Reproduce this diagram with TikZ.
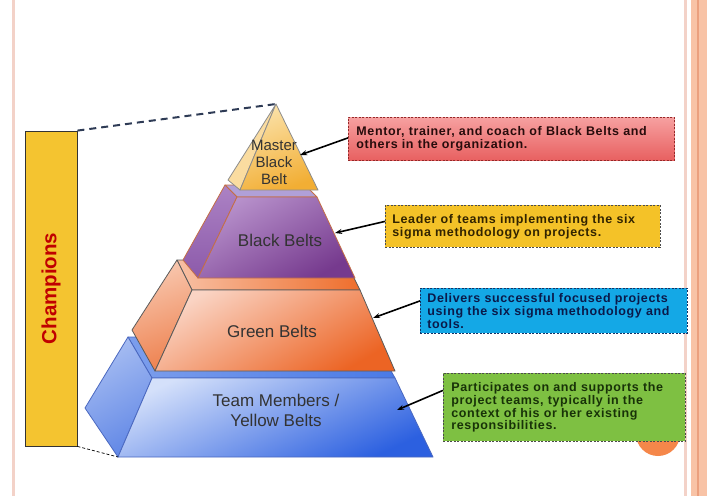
\documentclass[tikz,border=0pt]{standalone}
\usepackage{fontspec}
\setmainfont{Liberation Sans}
\usetikzlibrary{arrows.meta}

\definecolor{champ}{HTML}{F4C430}
\definecolor{champtext}{HTML}{C00000}
\definecolor{guide}{HTML}{2E3B55}
\definecolor{rule}{HTML}{F3D2C8}
\definecolor{band}{HTML}{F8C3A6}
\definecolor{bandline}{HTML}{EBA07E}
\definecolor{dot}{HTML}{F5874A}
% Team Members layer
\definecolor{tmedge}{HTML}{4A68C0}
\definecolor{tmtopA}{HTML}{7C9EEC}
\definecolor{tmtopB}{HTML}{4A7AE6}
\definecolor{tmsideA}{HTML}{A8BEF2}
\definecolor{tmsideB}{HTML}{6288E6}
\definecolor{tmfrontA}{HTML}{D4E0FA}
\definecolor{tmfrontB}{HTML}{2C60E0}
% Green Belts layer
\definecolor{gbedge}{HTML}{5A5A5A}
\definecolor{gbtopA}{HTML}{F8C0A4}
\definecolor{gbtopB}{HTML}{EE6E2C}
\definecolor{gbsideA}{HTML}{F8C8B0}
\definecolor{gbsideB}{HTML}{EE8250}
\definecolor{gbfrontA}{HTML}{FAD4C4}
\definecolor{gbfrontB}{HTML}{EC6424}
% Black Belts layer
\definecolor{bbedge}{HTML}{C46E46}
\definecolor{bbtop}{HTML}{B0A0D8}
\definecolor{bbsideA}{HTML}{AC82C4}
\definecolor{bbsideB}{HTML}{8C5AAA}
\definecolor{bbfrontA}{HTML}{B892CC}
\definecolor{bbfrontB}{HTML}{763A8E}
% Master Black Belt tip
\definecolor{mbedge}{HTML}{8C8C8C}
\definecolor{mbside}{HTML}{FADCA0}
\definecolor{mbfrontA}{HTML}{FBE2AA}
\definecolor{mbfrontB}{HTML}{F2AE34}
% role boxes
\definecolor{redA}{HTML}{F6A0A0}
\definecolor{redB}{HTML}{E86060}
\definecolor{redline}{HTML}{962828}
\definecolor{redtext}{HTML}{280C0C}
\definecolor{yelfill}{HTML}{F4C228}
\definecolor{yeltext}{HTML}{322400}
\definecolor{bluefill}{HTML}{14A8E6}
\definecolor{bluetext}{HTML}{0A1A4A}
\definecolor{blueline}{HTML}{143264}
\definecolor{grnfill}{HTML}{7EC042}
\definecolor{grntext}{HTML}{183208}

\begin{document}
\begin{tikzpicture}[x=1pt,y=-1pt,
  face/.style={draw=#1, line width=0.8pt, line join=round},
  layerlabel/.style={font=\fontsize{17}{20}\selectfont, text=black!80, align=center},
  callout/.style={draw=black!70, dashed, dash pattern=on 2pt off 1.5pt, line width=0.8pt,
    anchor=north west, inner xsep=8pt, inner ysep=4pt, align=left,
    font=\fontsize{12.5}{12.8}\selectfont\bfseries\addfontfeatures{LetterSpace=5}},
  pointer/.style={-{Stealth[length=7pt,width=5pt]}, line width=1.6pt, black}]

% page frame
\fill[white] (0,0) rectangle (707,496);
\useasboundingbox (0,0) rectangle (707,496);
\fill[rule] (12,0) rectangle (15,496);
\fill[rule] (684,0) rectangle (687,496);
\fill[band] (691,0) rectangle (707,496);
\fill[bandline] (697,0) rectangle (698.5,496);
\fill[dot] (658,434) circle (22);

% Champions bar
\node[draw=black!80, line width=0.8pt, fill=champ, minimum width=52pt, minimum height=315pt,
      inner sep=0pt] (champ) at (51,288.5) {};
\node[rotate=90, text=champtext, font=\fontsize{20.5}{24}\selectfont\bfseries] (champlabel) at (champ.center) {Champions};

\coordinate (apex) at (276,104);
\coordinate (baseleft) at (118,457);

% --- Team Members / Yellow Belts layer
\shade[left color=tmtopA, right color=tmtopB]
  (128,337) -- (372,337) -- (395,378) -- (152,378) -- cycle;
\draw[face=tmedge] (128,337) -- (372,337) -- (395,378) -- (152,378) -- cycle;
\shade[top color=tmsideA, bottom color=tmsideB, shading angle=30]
  (128,337) -- (152,378) -- (118,457) -- (85,408) -- cycle;
\draw[face=tmedge] (128,337) -- (152,378) -- (118,457) -- (85,408) -- cycle;
\shade[top color=tmfrontA, bottom color=tmfrontB, shading angle=25]
  (152,378) -- (395,378) -- (433,457) -- (118,457) -- cycle;
\draw[face=tmedge] (152,378) -- (395,378) -- (433,457) -- (118,457) -- cycle;

% --- Green Belts layer
\shade[left color=gbtopA, right color=gbtopB]
  (177,260) -- (345,260) -- (360,290) -- (192,290) -- cycle;
\draw[face=gbedge] (177,260) -- (345,260) -- (360,290) -- (192,290) -- cycle;
\shade[top color=gbsideA, bottom color=gbsideB, shading angle=20]
  (177,260) -- (192,290) -- (155,371) -- (132,330) -- cycle;
\draw[face=gbedge] (177,260) -- (192,290) -- (155,371) -- (132,330) -- cycle;
\shade[top color=gbfrontA, bottom color=gbfrontB, shading angle=30]
  (192,290) -- (360,290) -- (395,371) -- (155,371) -- cycle;
\draw[face=gbedge] (192,290) -- (360,290) -- (395,371) -- (155,371) -- cycle;

% --- Black Belts layer
\fill[face=bbedge, fill=bbtop] (225,185) -- (305,185) -- (317,197) -- (237,197) -- cycle;
\shade[top color=bbsideA, bottom color=bbsideB]
  (225,185) -- (237,197) -- (198,278) -- (183,260) -- cycle;
\draw[face=bbedge] (225,185) -- (237,197) -- (198,278) -- (183,260) -- cycle;
\shade[top color=bbfrontA, bottom color=bbfrontB, shading angle=30]
  (237,197) -- (317,197) -- (355,278) -- (198,278) -- cycle;
\draw[face=bbedge] (237,197) -- (317,197) -- (355,278) -- (198,278) -- cycle;

% --- Master Black Belt tip
\fill[face=mbedge, fill=mbside] (apex) -- (240,190) -- (228,180) -- cycle;
\shade[top color=mbfrontA, bottom color=mbfrontB, shading angle=20]
  (apex) -- (318,190) -- (240,190) -- cycle;
\draw[face=mbedge] (apex) -- (318,190) -- (240,190) -- cycle;

% layer labels
\node[layerlabel, font=\fontsize{15}{17}\selectfont] (mbb) at (274,162) {Master\\Black\\Belt};
\node[layerlabel] (bb) at (280,240) {Black Belts};
\node[layerlabel] (gb) at (272,331) {Green Belts};
\node[layerlabel] (tm) at (276,410) {Team Members /\\Yellow Belts};

% guide lines from the Champions bar
\draw[guide, line width=2pt, dash pattern=on 7pt off 5pt] (champ.north east) -- (apex);
\draw[black, line width=0.7pt, dash pattern=on 3pt off 2pt] (champ.south east) -- (baseleft);

% role descriptions
\node[callout, draw=redline, text=redtext, top color=redA, bottom color=redB,
      text width=310pt, minimum height=43pt] (d1) at (348,117)
  {Mentor, trainer, and coach of Black Belts and\\others in the organization.};
\node[callout, fill=yelfill, text=yeltext,
      inner xsep=7pt, text width=261pt, minimum height=42pt] (d2) at (385,205)
  {Leader of teams implementing the six\\sigma methodology on projects.};
\node[callout, fill=bluefill, text=bluetext, draw=blueline,
      inner xsep=7pt, text width=253pt, minimum height=45pt] (d3) at (420,288)
  {Delivers successful focused projects\\using the six sigma methodology and\\tools.};
\node[callout, fill=grnfill, text=grntext,
      text width=226pt, minimum height=68pt] (d4) at (443,373)
  {Participates on and supports the\\project teams, typically in the\\context of his or her existing\\responsibilities.};

% pointers into the pyramid
\coordinate (p1) at (300,155);
\coordinate (p2) at (335,233);
\coordinate (p3) at (373,318);
\coordinate (p4) at (397,410);
\draw[pointer] (d1.west) ++(0,-1) -- (p1);
\draw[pointer] (d2.west) ++(0,-5) -- (p2);
\draw[pointer] (d3.west) ++(0,-10) -- (p3);
\draw[pointer] (d4.west) ++(0,-17) -- (p4);
\end{tikzpicture}
\end{document}
